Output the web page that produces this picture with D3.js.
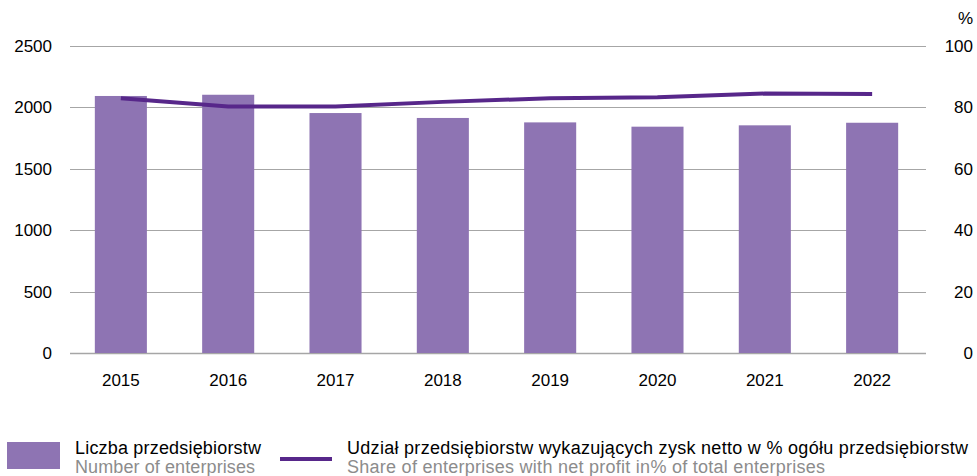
<!DOCTYPE html>
<html>
<head>
<meta charset="utf-8">
<script src="https://cdn.jsdelivr.net/npm/d3@7"></script>
<style>
  body { margin: 0; background: #fff; }
  svg text { font-family: "Liberation Sans", Arial, sans-serif; }
</style>
</head>
<body>
<div id="chart"></div>
<script>
const years = ["2015", "2016", "2017", "2018", "2019", "2020", "2021", "2022"];
const enterprises = [2093, 2103, 1954, 1914, 1878, 1843, 1854, 1875];
const profitShare = [83.0, 80.3, 80.3, 81.8, 83.0, 83.3, 84.5, 84.4];
const leftTicks = [0, 500, 1000, 1500, 2000, 2500];
const rightTicks = [0, 20, 40, 60, 80, 100];

const width = 977;
const height = 476;
const marginLeft = 68;
const marginRight = 52;
const marginTop = 46;
const plotBottom = 353;

const barColor = "#8e74b3";
const lineColor = "#57278a";
const gridColor = "#a6a6a6";

const x = d3.scaleBand()
    .domain(years)
    .range([marginLeft, width - marginRight])
    .paddingInner(0.515)
    .paddingOuter(0.25);

const yLeft = d3.scaleLinear()
    .domain([0, 2500])
    .range([plotBottom, marginTop]);

const yRight = d3.scaleLinear()
    .domain([0, 100])
    .range([plotBottom, marginTop]);

const svg = d3.create("svg")
    .attr("width", width)
    .attr("height", height);

// gridlines
svg.append("g")
    .selectAll("line")
    .data(leftTicks)
    .join("line")
    .attr("x1", 70)
    .attr("x2", 926)
    .attr("y1", d => Math.round(yLeft(d)) + 0.5)
    .attr("y2", d => Math.round(yLeft(d)) + 0.5)
    .attr("stroke", gridColor)
    .attr("stroke-width", d => d === 0 ? 1.5 : 1);

// left axis labels
svg.append("g")
    .selectAll("text")
    .data(leftTicks)
    .join("text")
    .attr("x", 52)
    .attr("y", d => yLeft(d) + 6)
    .attr("text-anchor", "end")
    .attr("font-size", 17)
    .attr("fill", "#000")
    .text(d => d);

// right axis labels
svg.append("g")
    .selectAll("text")
    .data(rightTicks)
    .join("text")
    .attr("x", 973)
    .attr("y", d => yRight(d) + 6)
    .attr("text-anchor", "end")
    .attr("font-size", 17)
    .attr("fill", "#000")
    .text(d => d);

svg.append("text")
    .attr("x", 973)
    .attr("y", 24)
    .attr("text-anchor", "end")
    .attr("font-size", 17)
    .text("%");

// bars
svg.append("g")
    .selectAll("rect")
    .data(enterprises)
    .join("rect")
    .attr("x", (d, i) => x(years[i]))
    .attr("width", x.bandwidth())
    .attr("y", d => yLeft(d))
    .attr("height", d => plotBottom - yLeft(d))
    .attr("fill", barColor);

// x labels
svg.append("g")
    .selectAll("text")
    .data(years)
    .join("text")
    .attr("x", d => x(d) + x.bandwidth() / 2)
    .attr("y", 386)
    .attr("text-anchor", "middle")
    .attr("font-size", 17)
    .text(d => d);

// line
const line = d3.line()
    .x((d, i) => x(years[i]) + x.bandwidth() / 2)
    .y(d => yRight(d));

svg.append("path")
    .datum(profitShare)
    .attr("fill", "none")
    .attr("stroke", lineColor)
    .attr("stroke-width", 4)
    .attr("d", line);

// legend
const legendText = (xPos, yPos, txt, len, color) => svg.append("text")
    .attr("x", xPos)
    .attr("y", yPos)
    .attr("font-size", 18)
    .attr("fill", color)
    .attr("textLength", len)
    .text(txt);

svg.append("rect")
    .attr("x", 7)
    .attr("y", 442)
    .attr("width", 53)
    .attr("height", 27)
    .attr("fill", barColor);

legendText(75, 454, "Liczba przedsiębiorstw", 186, "#000");
legendText(75, 473, "Number of enterprises", 180, "#8c8c8c");

svg.append("line")
    .attr("x1", 280)
    .attr("x2", 332)
    .attr("y1", 459)
    .attr("y2", 459)
    .attr("stroke", lineColor)
    .attr("stroke-width", 4);

legendText(347, 454, "Udział przedsiębiorstw wykazujących zysk netto w % ogółu przedsiębiorstw", 621, "#000");
legendText(347, 473, "Share of enterprises with net profit in% of total enterprises", 478, "#8c8c8c");

d3.select("#chart").append(() => svg.node());
</script>
</body>
</html>
